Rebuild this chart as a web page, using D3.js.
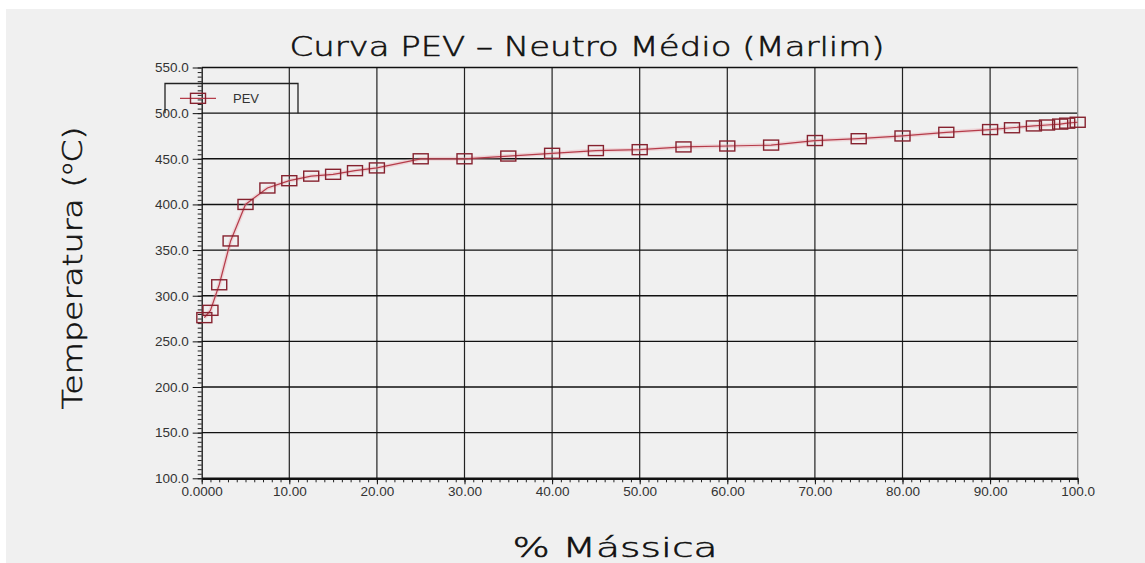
<!DOCTYPE html>
<html>
<head>
<meta charset="utf-8">
<script src="https://cdn.jsdelivr.net/npm/d3@7"></script>
<style>
  html, body { margin: 0; padding: 0; background: #ffffff; }
  svg { display: block; }
</style>
</head>
<body>
<svg id="chart" width="1145" height="563"></svg>
<script>
// PEV (true boiling point) curve: cumulative mass % vs. temperature
const massPct = [0.3, 1, 2, 3.3, 5, 7.5, 10, 12.5, 15, 17.5, 20, 25, 30, 35, 40, 45, 50,
                 55, 60, 65, 70, 75, 80, 85, 90, 92.5, 95, 96.5, 98, 98.8, 100];
const tempC   = [276, 284, 312, 360, 400, 418, 426, 431, 433, 437, 440, 450, 450, 453, 456, 459, 460,
                 463, 464, 465, 470, 472, 475, 479, 482, 484, 486, 487, 488, 489, 490];

const xTickValues = [0, 10, 20, 30, 40, 50, 60, 70, 80, 90, 100];
const xTickLabels = ["0.0000", "10.00", "20.00", "30.00", "40.00", "50.00",
                     "60.00", "70.00", "80.00", "90.00", "100.0"];
const yTickValues = [100, 150, 200, 250, 300, 350, 400, 450, 500, 550];

const titleText = "Curva PEV \u2013 Neutro M\u00e9dio (Marlim)";
const xTitle = "% M\u00e1ssica";
const seriesName = "PEV";

const svg = d3.select("#chart");
const W = 1145, H = 563;

// page panel
svg.append("rect").attr("x", 6).attr("y", 9).attr("width", W - 6).attr("height", H - 9)
  .attr("fill", "#f0f0f0");

const plot = { left: 201.7, right: 1077.7, top: 67.5, bottom: 478.3 };

const x = d3.scaleLinear().domain([0, 100]).range([plot.left, plot.right]);
const y = d3.scaleLinear().domain([100, 550]).range([plot.bottom, plot.top]);

// grid
const grid = svg.append("g");
grid.selectAll("line.vg").data(xTickValues.slice(1, -1)).join("line")
  .attr("x1", d => x(d)).attr("x2", d => x(d))
  .attr("y1", plot.top).attr("y2", plot.bottom)
  .attr("stroke", "#222").attr("stroke-width", 1.2);
grid.selectAll("line.hg").data(yTickValues.slice(1, -1)).join("line")
  .attr("x1", plot.left).attr("x2", plot.right)
  .attr("y1", d => y(d)).attr("y2", d => y(d))
  .attr("stroke", "#111").attr("stroke-width", 1.4);
// frame: top and right
grid.append("line").attr("x1", plot.left).attr("x2", plot.right)
  .attr("y1", plot.top).attr("y2", plot.top).attr("stroke", "#111").attr("stroke-width", 1.4);
grid.append("line").attr("x1", plot.right).attr("x2", plot.right)
  .attr("y1", plot.top).attr("y2", plot.bottom).attr("stroke", "#8a8a8a").attr("stroke-width", 1.3);

// y axis: minor ticks every 5, major every 50
const yMinor = svg.append("g").attr("transform", `translate(${plot.left},0)`)
  .call(d3.axisLeft(y).tickValues(d3.range(100, 551, 5)).tickSize(4).tickSizeOuter(0).tickFormat(""));
yMinor.select(".domain").remove();
yMinor.selectAll(".tick line").attr("stroke", "#222");

const yAxis = svg.append("g").attr("transform", `translate(${plot.left},0)`)
  .call(d3.axisLeft(y).tickValues(yTickValues).tickSize(9).tickSizeOuter(0).tickPadding(4)
    .tickFormat(d3.format(".1f")));
yAxis.select(".domain").attr("stroke", "#111").attr("stroke-width", 1.3);
yAxis.selectAll(".tick line").attr("stroke", "#111");
yAxis.selectAll(".tick text").attr("font-family", "Liberation Sans, Arial, sans-serif")
  .attr("font-size", 13.5).attr("fill", "#333");

// x axis: minor ticks every 1, major every 10
const xMinor = svg.append("g").attr("transform", `translate(0,${plot.bottom})`)
  .call(d3.axisBottom(x).tickValues(d3.range(0, 101, 1)).tickSize(4).tickSizeOuter(0).tickFormat(""));
xMinor.select(".domain").remove();
xMinor.selectAll(".tick line").attr("stroke", "#222");

const xAxis = svg.append("g").attr("transform", `translate(0,${plot.bottom})`)
  .call(d3.axisBottom(x).tickValues(xTickValues).tickSize(6).tickSizeOuter(0).tickPadding(2)
    .tickFormat((d, i) => xTickLabels[i]));
xAxis.select(".domain").attr("stroke", "#111").attr("stroke-width", 2.4);
xAxis.selectAll(".tick line").attr("stroke", "#111");
xAxis.selectAll(".tick text").attr("font-family", "Liberation Sans, Arial, sans-serif")
  .attr("font-size", 13.5).attr("fill", "#333");

// series
const pts = massPct.map((m, i) => ({ m, t: tempC[i] }));
const line = d3.line().x(d => x(d.m)).y(d => y(d.t));
const seriesG = svg.append("g");
seriesG.append("path").datum(pts).attr("d", line)
  .attr("fill", "none").attr("stroke", "#eaa0aa").attr("stroke-width", 4).attr("opacity", 0.35);
seriesG.append("path").datum(pts).attr("d", line)
  .attr("fill", "none").attr("stroke", "#b53c4a").attr("stroke-width", 1.2);

const mW = 15, mH = 10;
seriesG.selectAll("rect.mk").data(pts).join("rect")
  .attr("x", d => x(d.m) - mW / 2).attr("y", d => y(d.t) - mH / 2)
  .attr("width", mW).attr("height", mH)
  .attr("fill", "none").attr("stroke", "#86222f").attr("stroke-width", 1.4);

// legend
const lg = svg.append("g");
const lgBox = { x0: 165, x1: 298, y0: 83.5, y1: y(500) };
lg.append("path")
  .attr("d", `M${lgBox.x0},${lgBox.y1}V${lgBox.y0}H${lgBox.x1}V${lgBox.y1}`)
  .attr("fill", "none").attr("stroke", "#222").attr("stroke-width", 1.3);
const lgY = (lgBox.y0 + lgBox.y1) / 2;
lg.append("line").attr("x1", 180).attr("x2", 216).attr("y1", lgY).attr("y2", lgY)
  .attr("stroke", "#b53c4a").attr("stroke-width", 1.2);
lg.append("rect").attr("x", 198 - mW / 2).attr("y", lgY - mH / 2).attr("width", mW).attr("height", mH)
  .attr("fill", "none").attr("stroke", "#86222f").attr("stroke-width", 1.4);
lg.append("text").attr("x", 233).attr("y", lgY + 4.5)
  .attr("font-family", "Liberation Sans, Arial, sans-serif").attr("font-size", 13).attr("fill", "#333")
  .text(seriesName);

// titles: light face, slightly thickened with a thin stroke
const titleFont = "DejaVu Sans, Verdana, sans-serif";
function titleStyle(sel) {
  return sel.attr("font-family", titleFont).attr("font-weight", 200).attr("font-size", 27)
    .attr("fill", "#111").attr("stroke", "#111").attr("stroke-width", 0.55);
}
svg.append("text").attr("x", 587).attr("y", 56).attr("text-anchor", "middle")
  .call(titleStyle)
  .attr("textLength", 595).attr("lengthAdjust", "spacingAndGlyphs")
  .text(titleText);

svg.append("text").attr("x", 615).attr("y", 557).attr("text-anchor", "middle")
  .call(titleStyle)
  .attr("textLength", 205).attr("lengthAdjust", "spacingAndGlyphs")
  .text(xTitle);

const yt = svg.append("text")
  .attr("transform", "translate(82,268) rotate(-90)").attr("text-anchor", "middle")
  .call(titleStyle)
  .attr("textLength", 283).attr("lengthAdjust", "spacingAndGlyphs");
yt.append("tspan").text("Temperatura (");
yt.append("tspan").attr("font-size", 16).attr("dy", -10).text("o");
yt.append("tspan").attr("dy", 10).text("C)");
</script>
</body>
</html>
